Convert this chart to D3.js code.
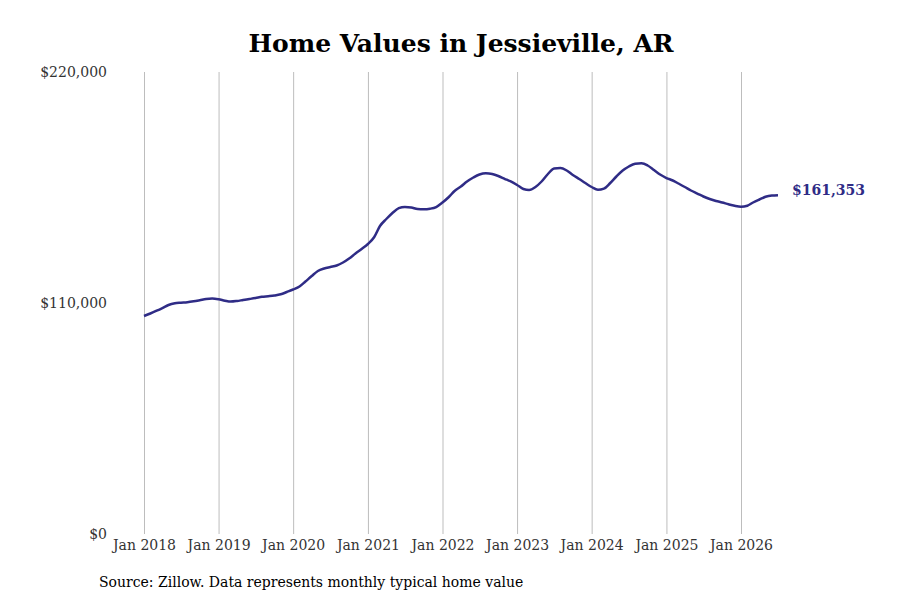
<!DOCTYPE html>
<html>
<head>
<meta charset="utf-8">
<script src="https://cdn.jsdelivr.net/npm/d3@7"></script>
<style>
  body { margin: 0; background: #fff; }
  svg { display: block; font-family: "DejaVu Serif", serif; }
</style>
</head>
<body>
<svg id="chart" width="900" height="600"></svg>
<script>
// Data (monthly typical home value, Jan 2018 onwards)
const startMonth = new Date(2018, 0, 1);
const homeValues = [
  103800, 105000, 106200, 107600, 109050, 109860, 110140, 110380, 110810, 111330, 111900, 112100,
  111760, 111100, 110670, 110950, 111430, 111900, 112380, 112950, 113240, 113570, 114140, 115240,
  116430, 117860, 120240, 122860, 125240, 126430, 127140, 127860, 129290, 131190, 133570, 135710,
  138100, 141430, 146670, 150000, 152860, 155140, 155710, 155480, 154760, 154620, 154900, 155710,
  157860, 160480, 163330, 165480, 167860, 169760, 171190, 171760, 171430, 170480, 169140, 167860,
  166190, 164290, 163810, 165240, 167860, 171430, 174050, 174290, 173100, 170950, 169050, 167140,
  165240, 163900, 164430, 167140, 170240, 173100, 175000, 176290, 176520, 175480, 173330, 171190,
  169520, 168330, 166900, 165240, 163570, 162140, 160710, 159520, 158570, 157860, 157000, 156290,
  155860, 156330, 157860, 159290, 160570, 161190, 161353
];
const yTicks = [0, 110000, 220000];
const xTickYears = [2018, 2019, 2020, 2021, 2022, 2023, 2024, 2025, 2026];
const titleText = "Home Values in Jessieville, AR";
const sourceText = "Source: Zillow. Data represents monthly typical home value";

const lineColor = "#2f2c86";
const svg = d3.select("svg#chart");

const data = homeValues.map((v, i) => ({ date: d3.timeMonth.offset(startMonth, i), value: v }));

const x = d3.scaleTime()
  .domain([new Date(2018, 0, 1), new Date(2026, 0, 1)])
  .range([144, 741]);
const y = d3.scaleLinear().domain([0, 220000]).range([534, 72]);

// Title
svg.append("text")
   .attr("x", 461).attr("y", 52)
   .attr("text-anchor", "middle")
   .style("font-size", "25px").style("font-weight", "bold")
   .attr("fill", "#000")
   .text(titleText);

// Vertical grid lines + x labels
const xAxis = d3.axisBottom(x)
  .tickValues(xTickYears.map(yr => new Date(yr, 0, 1)))
  .tickFormat(d3.timeFormat("Jan %Y"))
  .tickSize(-(534 - 72))
  .tickPadding(3);

const gx = svg.append("g").attr("transform", "translate(0,534)").call(xAxis);
gx.select(".domain").remove();
gx.selectAll(".tick line").attr("stroke", "#bdbdbd").attr("stroke-width", 1);
gx.selectAll(".tick text")
  .attr("fill", "#333").style("font-size", "14px").style("font-family", "DejaVu Serif, serif")
  .attr("dy", "0.95em");

// Y labels
const yAxis = d3.axisLeft(y)
  .tickValues(yTicks)
  .tickFormat(d => "$" + d3.format(",")(d))
  .tickSize(0)
  .tickPadding(0);
const gy = svg.append("g").attr("transform", "translate(107,0)").call(yAxis);
gy.select(".domain").remove();
gy.selectAll(".tick text")
  .attr("fill", "#333").style("font-size", "14px").style("font-family", "DejaVu Serif, serif");

// Line
const line = d3.line()
  .x(d => x(d.date))
  .y(d => y(d.value))
  .curve(d3.curveMonotoneX);

svg.append("path")
   .datum(data)
   .attr("fill", "none")
   .attr("stroke", lineColor)
   .attr("stroke-width", 2.5)
   .attr("stroke-linejoin", "round")
   .attr("d", line);

// End label
const last = data[data.length - 1];
svg.append("text")
   .attr("x", x(last.date) + 14).attr("y", y(last.value) - 5)
   .attr("dy", "0.35em")
   .attr("fill", lineColor)
   .style("font-size", "14px").style("font-weight", "bold")
   .text("$" + d3.format(",")(last.value));

// Source note
svg.append("text")
   .attr("x", 99).attr("y", 587)
   .attr("fill", "#000")
   .style("font-size", "14px")
   .text(sourceText);
</script>
</body>
</html>
